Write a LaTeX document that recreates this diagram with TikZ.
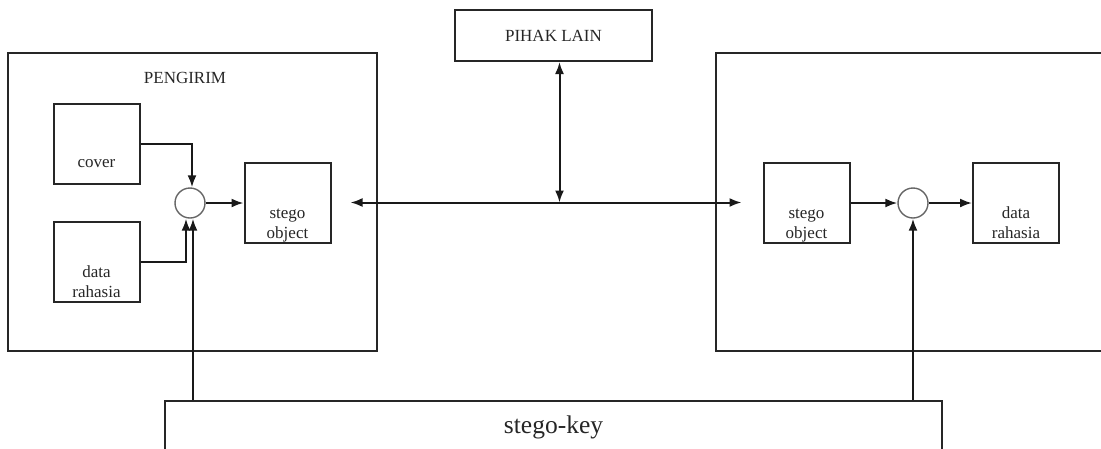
\documentclass[tikz,border=0pt]{standalone}
\usepackage{fontspec}
\setmainfont{Liberation Serif}
\usetikzlibrary{arrows.meta}
\usetikzlibrary{positioning}
\tikzstyle{party} = [rectangle, draw=black!85, line width=2pt]
\tikzstyle{block} = [rectangle, draw=black!85, line width=2pt, minimum width=86pt, minimum height=80pt]
\tikzstyle{mixer} = [circle, draw=black!60, line width=1.4pt, minimum size=30pt, inner sep=0pt]
\tikzstyle{boxtext} = [inner sep=0pt, align=center, text=black!85, font=\fontsize{17}{20}\selectfont]
\tikzstyle{flow} = [-{Latex[length=12pt,width=9pt]}, line width=2pt, draw=black!90]
\tikzstyle{both} = [{Latex[length=12pt,width=9pt]}-{Latex[length=12pt,width=9pt]}, line width=2pt, draw=black!90]

\begin{document}
\begin{tikzpicture}[x=1pt, y=-1pt]
\clip (0,0) rectangle (1101,448);

% sender and receiver frames
\node (sender) [party, minimum width=369pt, minimum height=298pt] at (192.5,202) {};
\node (pengirim) [boxtext] at (185,78) {PENGIRIM};
\node (receiver) [party, minimum width=400pt, minimum height=298pt] at (916,202) {};

\node (pihak) [party, minimum width=197pt, minimum height=51pt, boxtext] at (553.5,35.5) {PIHAK LAIN};
\node (key) [party, minimum width=777pt, minimum height=52pt, boxtext, font=\fontsize{25.5}{28}\selectfont] at (553.5,427) {stego-key};

% embedding side
\node (cover) [block] at (96.5,143.5) {};
\node (covertxt) [boxtext, above=17pt of cover.south] {cover};
\node (dataL) [block] at (96.5,261.5) {};
\node (dataLtxt) [boxtext, above=5pt of dataL.south] {data\\rahasia};
\node (mixL) [mixer] at (190,203) {};
\node (stegoL) [block] at (287.5,202.5) {};
\node (stegoLtxt) [boxtext, above=1pt of stegoL.south] {stego\\object};

% extracting side
\node (stegoR) [block] at (806.5,202.5) {};
\node (stegoRtxt) [boxtext, above=1pt of stegoR.south] {stego\\object};
\node (mixR) [mixer] at (913,203) {};
\node (dataR) [block] at (1016,202.5) {};
\node (dataRtxt) [boxtext, above=5pt of dataR.south] {data\\rahasia};

\coordinate (chL) at ([xshift=19pt]stegoL.east);
\coordinate (chR) at ([xshift=-21pt]stegoR.west);

\draw[flow] (cover.east) -| ([xshift=2pt]mixL.north);
\draw[flow] (dataL.east) -| ([xshift=-4pt]mixL.south);
\draw[flow] ([xshift=3pt]mixL.south |- key.north) -- ([xshift=3pt]mixL.south);
\draw[flow] (mixL.east) -- (mixL.east -| stegoL.west);

\draw[both] (chL) -- (chR);
\draw[both] ([xshift=6pt]pihak.south) -- ([xshift=6pt]pihak.south |- chL);

\draw[flow] (stegoR.east |- mixR.west) -- (mixR.west);
\draw[flow] (mixR.east) -- (mixR.east -| dataR.west);
\draw[flow] (mixR.south |- key.north) -- (mixR.south);
\end{tikzpicture}
\end{document}
